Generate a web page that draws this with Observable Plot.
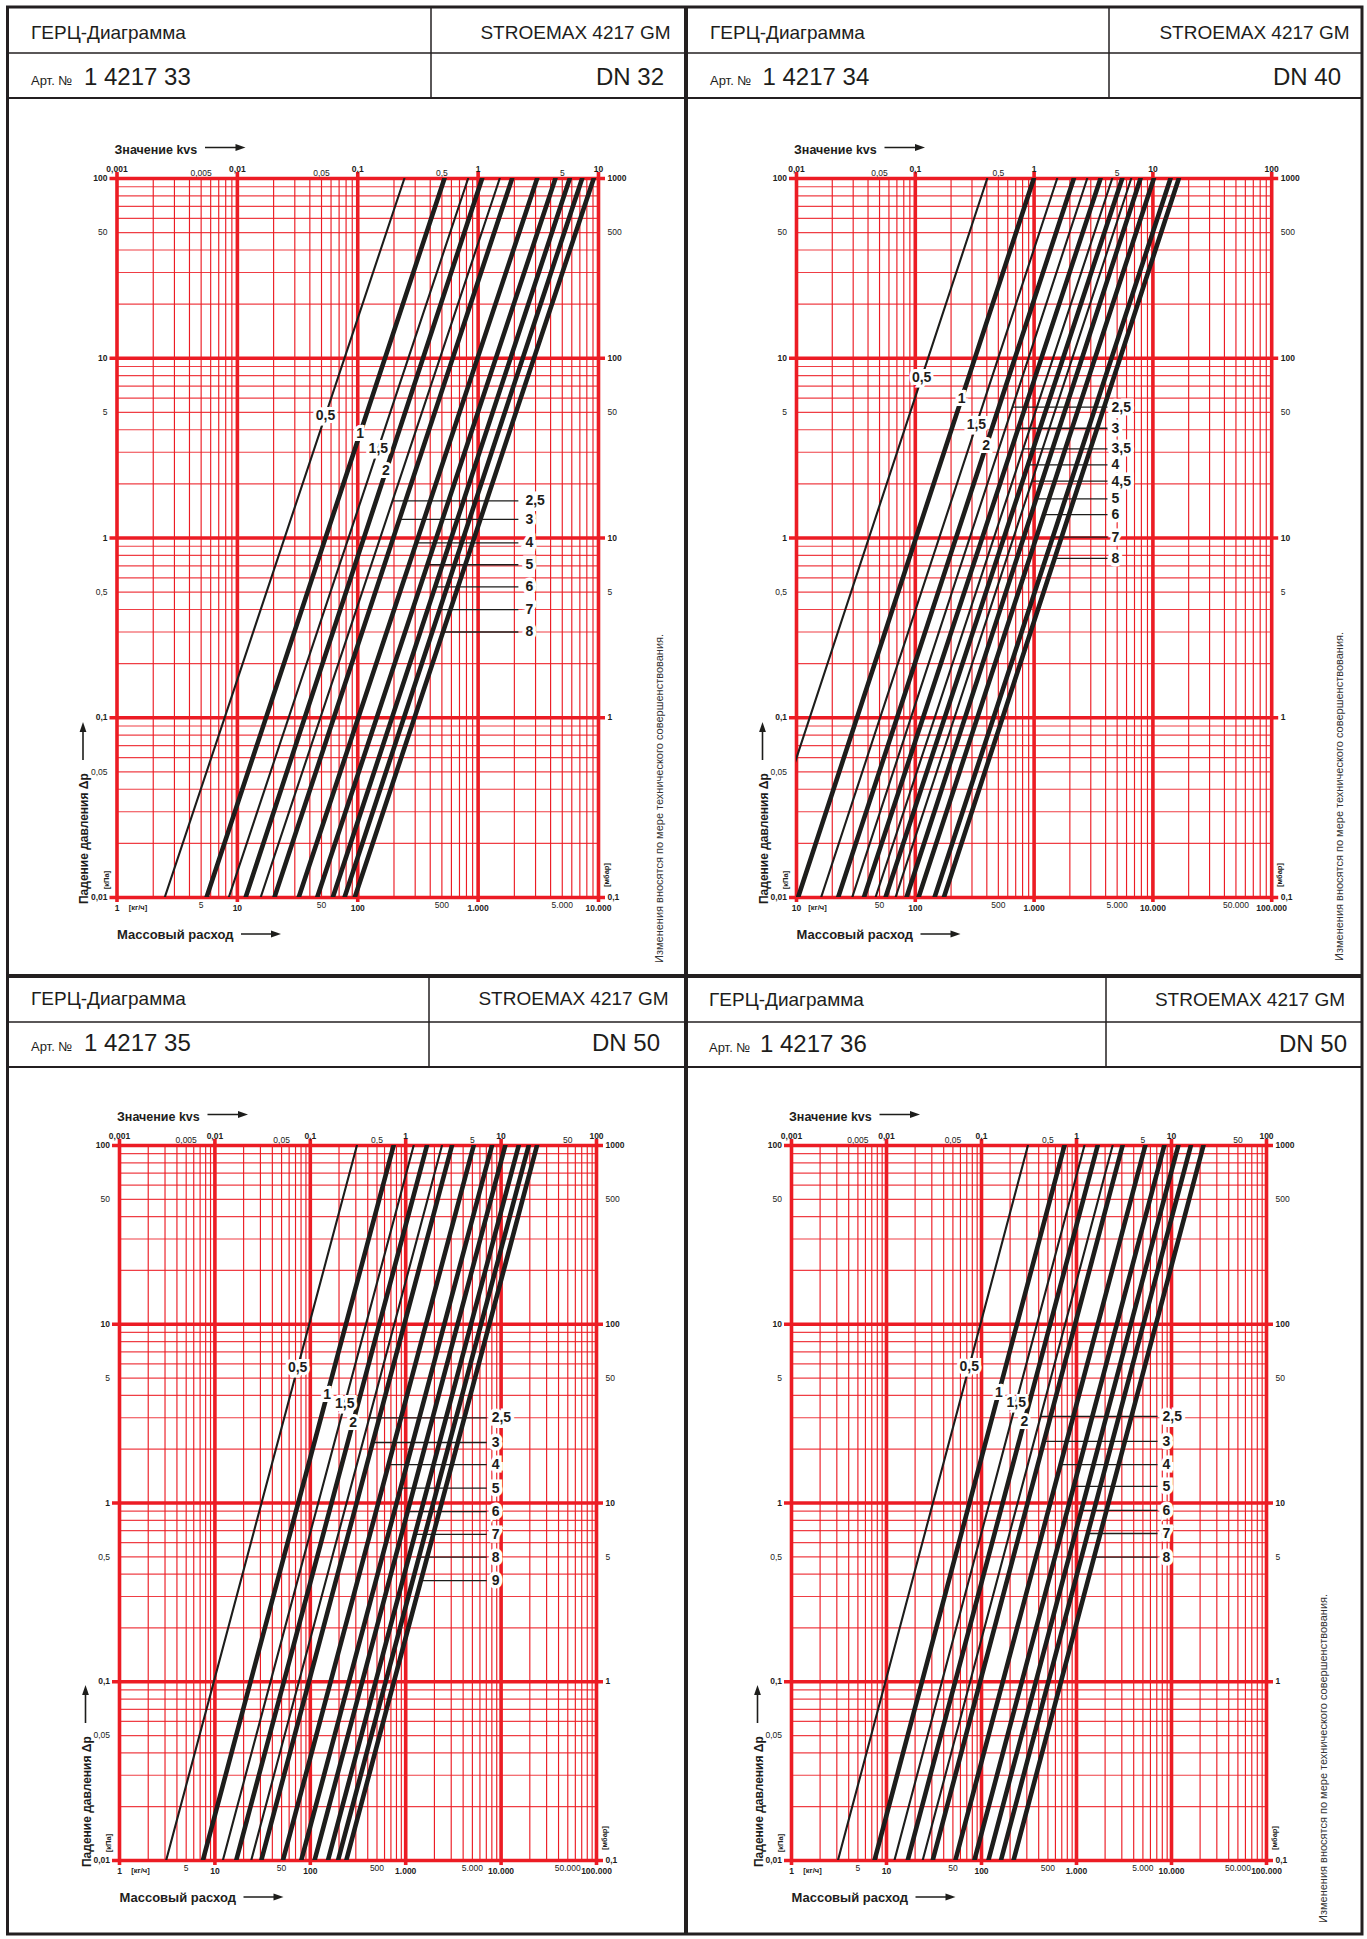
<!DOCTYPE html>
<html lang="ru">
<head>
<meta charset="utf-8">
<title>ГЕРЦ-Диаграмма STROEMAX 4217 GM</title>
<script src="https://cdn.jsdelivr.net/npm/d3@7"></script>
<script src="https://cdn.jsdelivr.net/npm/@observablehq/plot@0.6"></script>
<style>
html,body{margin:0;padding:0;background:#fff;}
#page{position:relative;width:1367px;height:1939px;overflow:hidden;background:#fff;font-family:"Liberation Sans",Arial,sans-serif;}
#deco{position:absolute;left:0;top:0;pointer-events:none;}
</style>
</head>
<body>
<div id="page"></div>
<script>
// ---------------- DATA ----------------
// Each line: mass flow [kg/h] where it meets Δp = 100 kPa (top) and Δp = 0,01 kPa (bottom)

// Art. 1 4217 33 — DN 32
const dn32Labels     = ["0,5","1","1,5","2","2,5","3","4","5","6","7","8"];
const dn32FlowTop    = [244, 525, 826, 1079, 1511, 1915, 3091, 4384, 5768, 7311, 9120];
const dn32FlowBottom = [2.49, 5.54, 8.48, 11.7, 15.6, 20.3, 32.3, 46.0, 62.0, 77.6, 94.4];
const dn32LabelDp    = [4.82, 3.83, 3.16, 2.37, 1.61, 1.27, 0.94, 0.71, 0.535, 0.40, 0.30];
const dn32LeaderEnd  = 2160;

// Art. 1 4217 34 — DN 40
const dn40Labels     = ["0,5","1","1,5","2","2,5","3","3,5","4","4,5","5","6","7","8"];
const dn40FlowTop    = [403, 994, 1564, 2159, 2799, 3622, 4544, 5515, 6568, 7863, 10176, 14064, 16520];
const dn40FlowBottom = [4.1, 10.3, 16.1, 22.4, 29.4, 36.9, 46.2, 56.1, 68.1, 84.3, 106.4, 145.1, 173.8];
const dn40LabelDp    = [7.81, 5.97, 4.28, 3.26, 5.34, 4.08, 3.13, 2.55, 2.07, 1.65, 1.35, 1.01, 0.77];
const dn40LeaderEnd  = 4150;

// Art. 1 4217 35 — DN 50
const dn35Labels     = ["0,5","1","1,5","2","2,5","3","4","5","6","7","8","9"];
const dn35FlowTop    = [308, 747, 1212, 1671, 2400, 3056, 5159, 8027, 11067, 15295, 19478, 23800];
const dn35FlowBottom = [3.08, 7.47, 12.1, 16.7, 24.0, 30.6, 51.6, 80.3, 110.7, 153, 195, 238];
const dn35LabelDp    = [5.73, 4.05, 3.60, 2.82, 2.99, 2.18, 1.64, 1.21, 0.896, 0.667, 0.498, 0.368];
const dn35LeaderEnd  = 7063;

// Art. 1 4217 36 — DN 50
const dn36Labels     = ["0,5","1","1,5","2","2,5","3","4","5","6","7","8"];
const dn36FlowTop    = [308, 747, 1212, 1671, 2400, 3056, 5300, 8400, 11800, 16000, 21700];
const dn36FlowBottom = [3.08, 7.47, 12.1, 16.7, 24.0, 30.6, 53.0, 84.0, 118, 160, 217];
const dn36LabelDp    = [5.82, 4.17, 3.67, 2.86, 3.05, 2.21, 1.64, 1.24, 0.91, 0.675, 0.498];
const dn36LeaderEnd  = 7120;

// Tick labels
const flowTicks4     = [1,5,10,50,100,500,1000,5000,10000];
const flowTickText4  = ["1","5","10","50","100","500","1.000","5.000","10.000"];
const kvsTickText4   = ["0,001","0,005","0,01","0,05","0,1","0,5","1","5","10"];
const flowTicks40    = [10,50,100,500,1000,5000,10000,50000,100000];
const flowTickText40 = ["10","50","100","500","1.000","5.000","10.000","50.000","100.000"];
const kvsTickText40  = ["0,01","0,05","0,1","0,5","1","5","10","","100"];
const flowTicks5     = [1,5,10,50,100,500,1000,5000,10000,50000,100000];
const flowTickText5  = ["1","5","10","50","100","500","1.000","5.000","10.000","50.000","100.000"];
const kvsTickText5   = ["0,001","0,005","0,01","0,05","0,1","0,5","1","5","10","50","100"];
const dpTicks        = [100,50,10,5,1,0.5,0.1,0.05,0.01];
const dpTickText     = ["100","50","10","5","1","0,5","0,1","0,05","0,01"];
const mbarTickText   = ["1000","500","100","50","10","5","1","","0,1"];
const minorSteps     = [2,3,4,5,6,7,8,9];

// ---------------- STYLE / LAYOUT ----------------
const RED = "#ec1c24";
const INK = "#1d1d1b";
const FONT = "'Liberation Sans', Arial, Helvetica, sans-serif";
const NOTE = "Изменения вносятся по мере технического совершенствования.";

const panels = [
  {art:"1 4217 33", dn:"DN 32", px:7, py:7, pw:679, ph:969, frame:[116.5,598,178,897], domain:[1,10000],
   labels:dn32Labels, flowTop:dn32FlowTop, flowBottom:dn32FlowBottom, labelDp:dn32LabelDp, leaderEnd:dn32LeaderEnd, stackDx:7,
   flowTicks:flowTicks4, flowText:flowTickText4, kvsText:kvsTickText4,
   head:{left:31, num:84, rightA:670.5, rightB:664, b1:38.5, b2:85}, note:{x:663, y:963}},
  {art:"1 4217 34", dn:"DN 40", px:686, py:7, pw:676, ph:969, frame:[796,1271.2,178,897], domain:[10,100000],
   labels:dn40Labels, flowTop:dn40FlowTop, flowBottom:dn40FlowBottom, labelDp:dn40LabelDp, leaderEnd:dn40LeaderEnd, stackDx:4,
   flowTicks:flowTicks40, flowText:flowTickText40, kvsText:kvsTickText40,
   head:{left:710, num:762.5, rightA:1349.5, rightB:1341, b1:38.5, b2:85}, note:{x:1343, y:961}},
  {art:"1 4217 35", dn:"DN 50", px:7, py:976, pw:679, ph:958, frame:[119,596,1145,1860], domain:[1,100000],
   labels:dn35Labels, flowTop:dn35FlowTop, flowBottom:dn35FlowBottom, labelDp:dn35LabelDp, leaderEnd:dn35LeaderEnd, stackDx:5,
   flowTicks:flowTicks5, flowText:flowTickText5, kvsText:kvsTickText5,
   head:{left:31, num:84, rightA:668.5, rightB:660, b1:1004.5, b2:1051}, note:null},
  {art:"1 4217 36", dn:"DN 50", px:686, py:976, pw:676, ph:958, frame:[791,1266,1145,1860], domain:[1,100000],
   labels:dn36Labels, flowTop:dn36FlowTop, flowBottom:dn36FlowBottom, labelDp:dn36LabelDp, leaderEnd:dn36LeaderEnd, stackDx:5,
   flowTicks:flowTicks5, flowText:flowTickText5, kvsText:kvsTickText5,
   head:{left:709, num:760, rightA:1345, rightB:1347, b1:1005.5, b2:1052}, note:{x:1327, y:1923}}
];

const isDecade = v => Math.abs(Math.log10(v) - Math.round(Math.log10(v))) < 1e-9;

// position (flow) of the drawn straight line i at a given Δp (log-log)
function flowOnLine(p, i, dp) {
  const t = (Math.log10(dp) - Math.log10(0.01)) / (Math.log10(100) - Math.log10(0.01));
  const a = Math.log10(p.flowBottom[i]), b = Math.log10(p.flowTop[i]);
  return 10 ** (a + t * (b - a));
}

const page = document.getElementById("page");

function chart(p) {
  const [fx0, fx1, fy0, fy1] = p.frame;
  const left = p.px, top = p.py + 93, width = p.pw, height = p.ph - 93;
  const [d0, d1] = p.domain;
  const decX = [], minX = [];
  for (let e = Math.round(Math.log10(d0)); e <= Math.round(Math.log10(d1)); e++) {
    decX.push(10 ** e);
    if (e < Math.round(Math.log10(d1))) minorSteps.forEach(k => minX.push(k * 10 ** e));
  }
  const decY = [0.01, 0.1, 1, 10, 100], minY = [];
  [-2, -1, 0, 1].forEach(e => minorSteps.forEach(k => minY.push(k * 10 ** e)));

  const rows = p.labels.flatMap((lab, i) => [
    {id: i, heavy: !lab.includes(","), flow: p.flowTop[i], dp: 100},
    {id: i, heavy: !lab.includes(","), flow: p.flowBottom[i], dp: 0.01}
  ]);
  const onLine = [], stack = [];
  p.labels.forEach((lab, i) => {
    const dp = p.labelDp[i];
    const f = flowOnLine(p, i, dp);
    if (i < 4) onLine.push({lab, flow: f, dp});
    else stack.push({lab, from: f, to: p.leaderEnd, dp});
  });

  const ticks = p.flowTicks.map((v, i) => ({v, flow: p.flowText[i], kvs: p.kvsText[i], bold: isDecade(v)}));
  const dps = dpTicks.map((v, i) => ({v, kpa: dpTickText[i], mbar: mbarTickText[i], bold: isDecade(v)}));

  const svg = Plot.plot({
    width, height,
    marginLeft: fx0 - left, marginRight: left + width - fx1,
    marginTop: fy0 - top, marginBottom: top + height - fy1,
    x: {type: "log", domain: p.domain, axis: null},
    y: {type: "log", domain: [0.01, 100], axis: null},
    style: {position: "absolute", left: left + "px", top: top + "px", background: "none", overflow: "visible", fontFamily: FONT, color: INK},
    marks: [
      Plot.ruleX(minX, {stroke: RED, strokeWidth: 1.15}),
      Plot.ruleY(minY, {stroke: RED, strokeWidth: 1.15, strokeOpacity: 0.85}),
      Plot.ruleX(decX, {stroke: RED, strokeWidth: 3.6, insetTop: -6, insetBottom: -5}),
      Plot.ruleY(decY, {stroke: RED, strokeWidth: 3.6, insetLeft: -7, insetRight: -7}),
      Plot.line(rows.filter(d => !d.heavy), {x: "flow", y: "dp", z: "id", stroke: INK, strokeWidth: 2.1, clip: true}),
      Plot.line(rows.filter(d => d.heavy), {x: "flow", y: "dp", z: "id", stroke: INK, strokeWidth: 4.6, clip: true}),
      Plot.link(stack, {x1: "from", x2: "to", y1: "dp", y2: "dp", stroke: INK, strokeWidth: 1.3}),
      Plot.text(onLine, {x: "flow", y: "dp", text: "lab", fontSize: 14, fontWeight: "bold", fill: INK,
        stroke: "white", strokeWidth: 6, paintOrder: "stroke", strokeLinejoin: "miter"}),
      Plot.text(stack, {x: "to", y: "dp", text: "lab", textAnchor: "start", dx: p.stackDx, fontSize: 14, fontWeight: "bold", fill: INK,
        stroke: "white", strokeWidth: 7, paintOrder: "stroke", strokeLinejoin: "miter"}),
      // top kvs axis labels
      Plot.text(ticks.filter(d => d.bold), {x: "v", text: "kvs", frameAnchor: "top", dy: -12.5, fontSize: 8.5, fontWeight: "bold", fill: INK}),
      Plot.text(ticks.filter(d => !d.bold), {x: "v", text: "kvs", frameAnchor: "top", dy: -9, fontSize: 8.5, fill: INK}),
      // bottom flow axis labels
      Plot.text(ticks.filter(d => d.bold), {x: "v", text: "flow", frameAnchor: "bottom", dy: 13.5, fontSize: 8.5, fontWeight: "bold", fill: INK}),
      Plot.text(ticks.filter(d => !d.bold), {x: "v", text: "flow", frameAnchor: "bottom", dy: 10, fontSize: 8.5, fill: INK}),
      // left kPa / right mbar labels
      Plot.text(dps.filter(d => d.bold), {y: "v", text: "kpa", frameAnchor: "left", dx: -9.5, textAnchor: "end", fontSize: 8.5, fontWeight: "bold", fill: INK}),
      Plot.text(dps.filter(d => !d.bold), {y: "v", text: "kpa", frameAnchor: "left", dx: -9.5, textAnchor: "end", fontSize: 8.5, fill: INK}),
      Plot.text(dps.filter(d => d.bold), {y: "v", text: "mbar", frameAnchor: "right", dx: 9, textAnchor: "start", fontSize: 8.5, fontWeight: "bold", fill: INK}),
      Plot.text(dps.filter(d => !d.bold), {y: "v", text: "mbar", frameAnchor: "right", dx: 9, textAnchor: "start", fontSize: 8.5, fill: INK})
    ]
  });
  page.appendChild(svg);
}

panels.forEach(chart);

// ---------------- FRAMES, HEADERS, TITLES (decoration layer) ----------------
const deco = d3.select(page).append("svg").attr("id", "deco").attr("width", 1367).attr("height", 1939)
  .style("font-family", FONT).attr("fill", INK);

function line(x1, y1, x2, y2, w, c = "#231f20") {
  deco.append("line").attr("x1", x1).attr("y1", y1).attr("x2", x2).attr("y2", y2)
    .attr("stroke", c).attr("stroke-width", w);
}
function text(x, y, s, size, opts = {}) {
  const t = deco.append("text").attr("x", x).attr("y", y).attr("font-size", size).text(s);
  if (opts.bold) t.attr("font-weight", "bold");
  if (opts.anchor) t.attr("text-anchor", opts.anchor);
  if (opts.rotate) t.attr("transform", `rotate(${opts.rotate},${x},${y})`);
  if (opts.fill) t.attr("fill", opts.fill);
  return t;
}
function arrowH(x1, x2, y) {
  line(x1, y, x2 - 7, y, 1.6, INK);
  deco.append("path").attr("d", `M${x2},${y} L${x2 - 10},${y - 3.4} L${x2 - 10},${y + 3.4} Z`).attr("fill", INK);
}
function arrowUp(x, y1, y2) {
  line(x, y1, x, y2 + 7, 1.6, INK);
  deco.append("path").attr("d", `M${x},${y2} L${x - 3.4},${y2 + 10} L${x + 3.4},${y2 + 10} Z`).attr("fill", INK);
}

// outer frame and panel separators
deco.append("rect").attr("x", 7.5).attr("y", 7).attr("width", 1354.5).attr("height", 1927)
  .attr("fill", "none").attr("stroke", "#231f20").attr("stroke-width", 3);
line(686, 7, 686, 1934, 4);
line(7, 976, 1362, 976, 4);

panels.forEach(p => {
  const [fx0, fx1, fy0, fy1] = p.frame;
  const x0 = p.px, x1 = p.px + p.pw;
  const r1 = p.py + 46, r2 = p.py + 91;
  const divX = p.px === 7 ? (p.py === 7 ? 431 : 429) : (p.py === 7 ? 1109 : 1106);
  line(x0, r1, x1, r1, 1.5);
  line(x0, r2, x1, r2, 2);
  line(divX, p.py, divX, r2, 1.5);
  const h = p.head;
  text(h.left, h.b1, "ГЕРЦ-Диаграмма", 19);
  text(h.rightA, h.b1, "STROEMAX 4217 GM", 19, {anchor: "end"});
  text(h.left, h.b2, "Арт. №", 13);
  text(h.num, h.b2, p.art, 24);
  text(h.rightB, h.b2, p.dn, 24, {anchor: "end"});

  // kvs title
  text(fx0 - 2, fy0 - 24.5, "Значение kvs", 12.5, {bold: true});
  arrowH(fx0 + 88.5, fx0 + 129, fy0 - 30.5);
  // flow title
  text(fx0 + 0.5, fy1 + 41.5, "Массовый расход", 13, {bold: true});
  arrowH(fx0 + 124.5, fx0 + 164.5, fy1 + 37);
  // pressure title
  text(fx0 - 28.5, fy1 + 7, "Падение давления Δp", 12, {bold: true, rotate: -90});
  arrowUp(fx0 - 33.5, fy1 - 137, fy1 - 175);
  // units
  text(fx0 + 21.5, fy1 + 13, "[кг/ч]", 7.5, {bold: true, anchor: "middle"});
  text(fx0 - 8, fy1 - 17, "[кПа]", 7.5, {bold: true, anchor: "middle", rotate: -90});
  text(fx1 + 10.5, fy1 - 22, "[мбар]", 7.5, {bold: true, anchor: "middle", rotate: -90});
  // note
  if (p.note) text(p.note.x, p.note.y, NOTE, 11, {rotate: -90, fill: "#333"});
});
</script>
</body>
</html>
